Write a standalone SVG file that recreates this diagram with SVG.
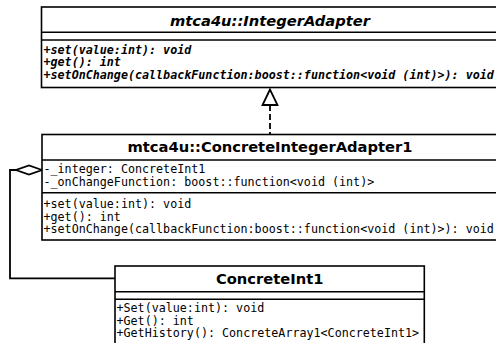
<svg xmlns="http://www.w3.org/2000/svg" width="496" height="343" viewBox="0 0 496 343">
<style>
.box{fill:#fff;stroke:#000;stroke-width:1.6}
.sep{stroke:#000;stroke-width:1.6;fill:none}
.title{font-family:"DejaVu Sans",sans-serif;font-weight:bold;font-size:14.7px;text-anchor:middle;fill:#000}
.ital{font-style:italic}
.mem{font-family:"DejaVu Sans Mono",monospace;font-size:11.7px;fill:#000}
.abs{font-weight:bold;font-style:italic}
.conn{stroke:#000;stroke-width:1.8;fill:none}
</style>
<rect width="496" height="343" fill="#fff"/>
<g id="connectors">
  <path class="conn" d="M270 105 V134" stroke-dasharray="6 3"/>
  <polygon class="conn" points="270,89.5 262.5,105 277.5,105" fill="#fff"/>
  <path class="conn" d="M115 278.3 H10 V170 H16"/>
  <polygon class="conn" points="42,170 29,165.5 16,170 29,174.5" fill="#fff"/>
</g>
<g id="IntegerAdapter">
  <rect class="box" x="41.5" y="7" width="458" height="80.5"/>
  <text class="title ital" x="270" y="25.5">mtca4u::IntegerAdapter</text>
  <path class="sep" d="M41.5 32.3 H500 M41.5 40 H500"/>
  <text class="mem abs" x="43.5" y="53.5">+set(value:int): void</text>
  <text class="mem abs" x="43.5" y="66">+get(): int</text>
  <text class="mem abs" x="43.5" y="78.5">+setOnChange(callbackFunction:boost::function&lt;void (int)&gt;): void</text>
</g>
<g id="ConcreteIntegerAdapter1">
  <rect class="box" x="42" y="134.5" width="458" height="105.5"/>
  <text class="title" x="270" y="152">mtca4u::ConcreteIntegerAdapter1</text>
  <path class="sep" d="M42 160 H500 M42 192.8 H500"/>
  <text class="mem" x="43.5" y="173.3">-_integer: ConcreteInt1</text>
  <text class="mem" x="43.5" y="186">-_onChangeFunction: boost::function&lt;void (int)&gt;</text>
  <text class="mem" x="43.5" y="208">+set(value:int): void</text>
  <text class="mem" x="43.5" y="220.5">+get(): int</text>
  <text class="mem" x="43.5" y="233">+setOnChange(callbackFunction:boost::function&lt;void (int)&gt;): void</text>
</g>
<g id="ConcreteInt1">
  <rect class="box" x="115" y="266" width="309.3" height="90"/>
  <text class="title" x="269.7" y="283.5">ConcreteInt1</text>
  <path class="sep" d="M115 291.7 H424.3 M115 299.3 H424.3"/>
  <text class="mem" x="116.5" y="312">+Set(value:int): void</text>
  <text class="mem" x="116.5" y="324.5">+Get(): int</text>
  <text class="mem" x="116.5" y="337">+GetHistory(): ConcreteArray1&lt;ConcreteInt1&gt;</text>
</g>
</svg>
